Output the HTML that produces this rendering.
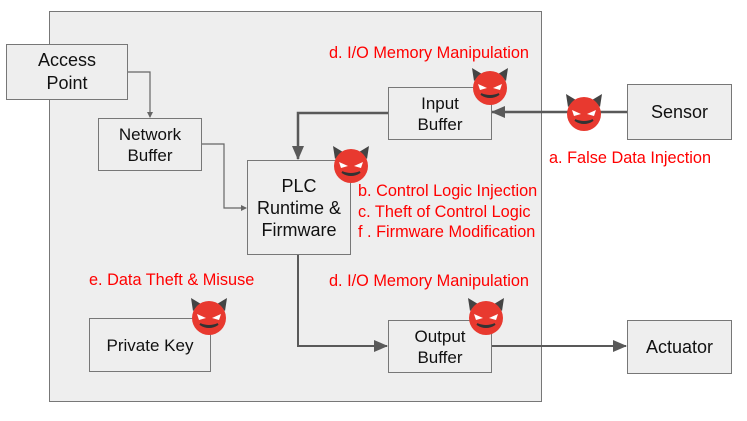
<!DOCTYPE html>
<html><head><style>
body{margin:0;background:#fff;width:747px;height:421px;position:relative;overflow:hidden;font-family:"Liberation Sans",sans-serif}
.b{position:absolute;background:#eeeeee;border:1.5px solid #777;box-sizing:border-box;display:flex;align-items:center;justify-content:center;text-align:center;font-size:16px;line-height:21px;color:#111}
.r{position:absolute;color:#f00;font-size:16.3px;white-space:nowrap}
</style></head><body>
<div class="b" style="left:49px;top:11px;width:493px;height:391px"></div>
<svg width="747" height="421" style="position:absolute;left:0;top:0">
<defs>
<marker id="s" markerWidth="6" markerHeight="6" refX="5" refY="3" orient="auto" markerUnits="userSpaceOnUse"><path d="M0,0L6,3L0,6z" fill="#666"/></marker>
<marker id="t" markerWidth="14" markerHeight="12" refX="13" refY="6" orient="auto" markerUnits="userSpaceOnUse"><path d="M0,0L14,6L0,12z" fill="#595959"/></marker>
<g id="d">
<path d="M-16,-7 L-18,-20 L-8,-14z M16,-7 L18,-20 L8,-14z" fill="#444"/>
<circle r="17" fill="#e8392f"/>
<path d="M-12,-4 L-3,0 L-10,2z M12,-4 L3,0 L10,2z" fill="#fff"/>
<path d="M-9,6 Q0,12 9,6 Q0,10 -9,6z" fill="#333" stroke="#333" stroke-width="2"/>
</g>
</defs>
<path d="M127,72H150V117" fill="none" stroke="#666" stroke-width="1.2" marker-end="url(#s)"/>
<path d="M201,144H224V208H246" fill="none" stroke="#666" stroke-width="1.2" marker-end="url(#s)"/>
<path d="M388,113H298V159" fill="none" stroke="#595959" stroke-width="2.5" marker-end="url(#t)"/>
<path d="M627,112H492" fill="none" stroke="#595959" stroke-width="2.5" marker-end="url(#t)"/>
<path d="M298,254V346H387" fill="none" stroke="#595959" stroke-width="2" marker-end="url(#t)"/>
<path d="M491,346H626" fill="none" stroke="#595959" stroke-width="2" marker-end="url(#t)"/>
</svg>
<div class="b" style="left:6px;top:44px;width:122px;height:56px;font-size:18px;line-height:23px">Access<br>Point</div>
<div class="b" style="left:98px;top:118px;width:104px;height:53px;font-size:17px">Network<br>Buffer</div>
<div class="b" style="left:247px;top:160px;width:104px;height:95px;font-size:18px;line-height:22px">PLC<br>Runtime &amp;<br>Firmware</div>
<div class="b" style="left:388px;top:87px;width:104px;height:53px;font-size:17px">Input<br>Buffer</div>
<div class="b" style="left:627px;top:84px;width:105px;height:56px;font-size:18px">Sensor</div>
<div class="b" style="left:388px;top:320px;width:104px;height:53px;font-size:17px">Output<br>Buffer</div>
<div class="b" style="left:627px;top:320px;width:105px;height:54px;font-size:18px">Actuator</div>
<div class="b" style="left:89px;top:318px;width:122px;height:54px;font-size:17px">Private Key</div>
<svg width="747" height="421" style="position:absolute;left:0;top:0">
<use href="#d" x="490" y="88"/><use href="#d" x="584" y="114"/><use href="#d" x="351" y="166"/><use href="#d" x="486" y="318"/><use href="#d" x="209" y="318"/>
</svg>
<div class="r" style="left:329px;top:44px">d. I/O Memory Manipulation</div>
<div class="r" style="left:549px;top:149px">a. False Data Injection</div>
<div class="r" style="left:358px;top:182px">b. Control Logic Injection</div>
<div class="r" style="left:358px;top:203px">c. Theft of Control Logic</div>
<div class="r" style="left:358px;top:223px">f . Firmware Modification</div>
<div class="r" style="left:89px;top:271px">e. Data Theft &amp; Misuse</div>
<div class="r" style="left:329px;top:272px">d. I/O Memory Manipulation</div>
</body></html>
